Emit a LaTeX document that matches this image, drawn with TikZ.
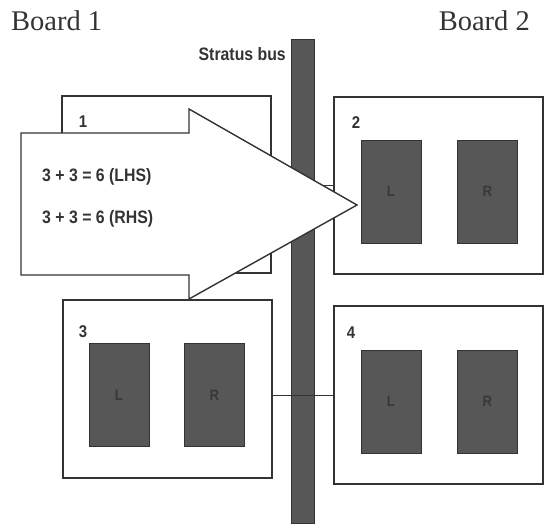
\documentclass[tikz,border=0pt]{standalone}
\usepackage{fontspec}
\setmainfont{Liberation Serif}
\newfontfamily\labelfont[FakeStretch=0.88]{Liberation Sans}
\definecolor{edge}{HTML}{333333}
\definecolor{chip}{HTML}{575757}
\definecolor{chiptext}{HTML}{383838}
\tikzset{
  board/.style={draw=edge, line width=1.4pt, fill=white, minimum width=209pt, minimum height=177pt, inner sep=0pt},
  cpu/.style={draw=edge, line width=0.8pt, fill=chip, minimum width=60pt, minimum height=103pt, inner sep=0pt,
              font=\labelfont\bfseries\fontsize{15}{15}\selectfont, text=chiptext},
  boardno/.style={font=\labelfont\bfseries\fontsize{17}{17}\selectfont, text=edge, inner sep=0pt},
  title/.style={font=\fontsize{28.5}{30}\selectfont, text=edge, inner sep=0pt},
  eqn/.style={font=\labelfont\bfseries\fontsize{18}{18}\selectfont, text=edge, inner sep=0pt, anchor=west},
  link/.style={draw=edge, line width=1pt}
}
\begin{document}
\begin{tikzpicture}[x=1pt, y=-1pt]
\useasboundingbox (0,0) rectangle (545,523);

% titles
\node[title, anchor=base west] (b1) at (11,30) {Board 1};
\node[title, anchor=base east] (b2) at (530,30) {Board 2};

% the bus
\node[draw=edge, line width=0.8pt, fill=chip, minimum width=23pt, minimum height=484pt, inner sep=0pt,
      anchor=north] (bus) at (302.5,39) {};
\node[font=\labelfont\bfseries\fontsize{18}{18}\selectfont, text=edge, inner sep=0pt, anchor=east]
  (buslabel) at (286,54) {Stratus bus};

% boards
\node[board] (box1) at (166.5,184.5) {};
\node[board] (box2) at (438.5,185.5) {};
\node[board, minimum height=178pt] (box3) at (167.5,389) {};
\node[board, minimum height=178pt] (box4) at (438.5,395) {};

\node[boardno] (n1) at (83,122) {1};
\node[boardno] (n2) at (356,123) {2};
\node[boardno] (n3) at (83,332) {3};
\node[boardno] (n4) at (351,333) {4};

% processors
\node[cpu] (l2) at (391,191.5) {L};
\node[cpu] (r2) at (487.5,191.5) {R};
\node[cpu] (l3) at (119,395) {L};
\node[cpu] (r3) at (214.5,395) {R};
\node[cpu] (l4) at (391,401.5) {L};
\node[cpu] (r4) at (487.5,401.5) {R};

% links between boards across the bus
\draw[link] (box2.west) -- (box2.west -| box1.east);
\draw[link] (box4.west) -- (box4.west -| box3.east);

% big arrow
\coordinate (a1) at (21,133);
\coordinate (a2) at (189,133);
\coordinate (a3) at (189,109);
\coordinate (tip) at (357,205);
\coordinate (a5) at (189,299);
\coordinate (a6) at (189,275);
\coordinate (a7) at (21,275);
\draw[draw=edge, line width=1.4pt, fill=white, line join=miter]
  (a1) -- (a2) -- (a3) -- (tip) -- (a5) -- (a6) -- (a7) -- cycle;

\node[eqn] (lhs) at (42,177) {3 + 3 = 6 (LHS)};
\node[eqn] (rhs) at (42,219) {3 + 3 = 6 (RHS)};
\end{tikzpicture}
\end{document}
